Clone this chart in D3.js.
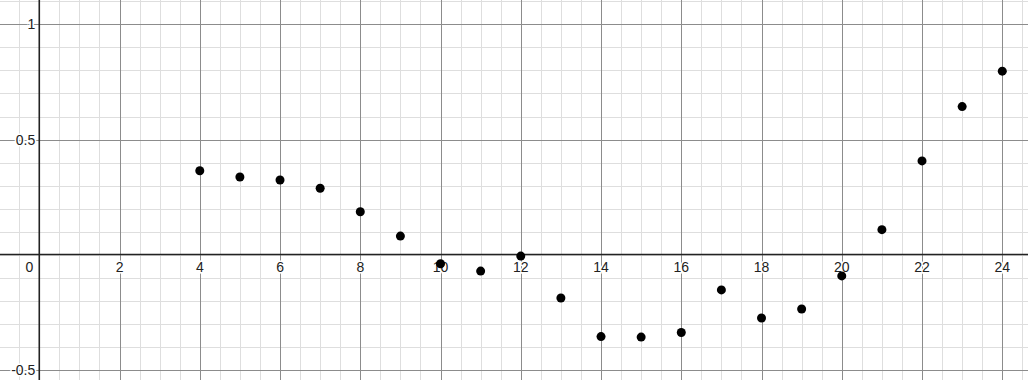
<!DOCTYPE html>
<html>
<head>
<meta charset="utf-8">
<script src="https://cdn.jsdelivr.net/npm/d3@7"></script>
<style>
  body { margin: 0; background: #fff; }
  svg { display: block; }
</style>
</head>
<body>
<svg id="chart"></svg>
<script>
// data
const xs = [4, 5, 6, 7, 8, 9, 10, 11, 12, 13, 14, 15, 16, 17, 18, 19, 20, 21, 22, 23, 24]
const ys = [0.364, 0.337, 0.324, 0.288, 0.186, 0.080, -0.040, -0.072, -0.007, -0.189, -0.357, -0.359, -0.339, -0.154, -0.276, -0.237, -0.093, 0.108, 0.407, 0.643, 0.797]
const xTicks = [2, 4, 6, 8, 10, 12, 14, 16, 18, 20, 22, 24]
const yTicks = [-0.5, 0.5, 1]

const width = 1028
const height = 380

const x = d3.scaleLinear().domain([-0.979, 24.641]).range([0, width])
const y = d3.scaleLinear().domain([-0.5456, 1.1065]).range([height, 0])

const svg = d3.select("#chart").attr("width", width).attr("height", height)

// minor grid
svg.append("g")
  .selectAll("line")
  .data(d3.range(-1, 25, 0.5))
  .join("line")
    .attr("x1", d => Math.round(x(d)) + 0.5).attr("x2", d => Math.round(x(d)) + 0.5)
    .attr("y1", 0).attr("y2", height)
    .attr("stroke", "#dedede").attr("stroke-width", 1)
svg.append("g")
  .selectAll("line")
  .data(d3.range(-5, 12).map(d => d / 10))
  .join("line")
    .attr("y1", d => Math.round(y(d)) + 0.5).attr("y2", d => Math.round(y(d)) + 0.5)
    .attr("x1", 0).attr("x2", width)
    .attr("stroke", "#dedede").attr("stroke-width", 1)

// major grid
svg.append("g")
  .selectAll("line")
  .data(d3.range(0, 26, 2))
  .join("line")
    .attr("x1", d => Math.round(x(d)) + 0.5).attr("x2", d => Math.round(x(d)) + 0.5)
    .attr("y1", 0).attr("y2", height)
    .attr("stroke", "#8c8c8c").attr("stroke-width", 1)
svg.append("g")
  .selectAll("line")
  .data([-0.5, 0.5, 1])
  .join("line")
    .attr("y1", d => Math.round(y(d)) + 0.5).attr("y2", d => Math.round(y(d)) + 0.5)
    .attr("x1", 0).attr("x2", width)
    .attr("stroke", "#8c8c8c").attr("stroke-width", 1)

// axes
svg.append("line")
  .attr("x1", 0).attr("x2", width)
  .attr("y1", y(0)).attr("y2", y(0))
  .attr("stroke", "#222").attr("stroke-width", 1.6)
svg.append("line")
  .attr("x1", x(0)).attr("x2", x(0))
  .attr("y1", 0).attr("y2", height)
  .attr("stroke", "#222").attr("stroke-width", 1.6)

// labels
const lab = svg.append("g")
  .attr("font-family", "Arial, 'Liberation Sans', sans-serif")
  .attr("font-size", 14)
  .attr("fill", "#222")

lab.selectAll("text.xt")
  .data(xTicks)
  .join("text")
    .attr("class", "xt")
    .attr("x", d => x(d))
    .attr("y", y(0) + 17)
    .attr("text-anchor", "middle")
    .attr("stroke", "#fff").attr("stroke-width", 3).attr("paint-order", "stroke")
    .text(d => d)

lab.append("text")
  .attr("x", x(0) - 6)
  .attr("y", y(0) + 17)
  .attr("text-anchor", "end")
  .attr("stroke", "#fff").attr("stroke-width", 3).attr("paint-order", "stroke")
  .text("0")

lab.selectAll("text.yt")
  .data(yTicks)
  .join("text")
    .attr("class", "yt")
    .attr("x", x(0) - 4)
    .attr("y", d => y(d) + 5)
    .attr("text-anchor", "end")
    .attr("stroke", "#fff").attr("stroke-width", 3).attr("paint-order", "stroke")
    .text(d => d)

// points
svg.append("g")
  .selectAll("circle")
  .data(xs.map((d, i) => [d, ys[i]]))
  .join("circle")
    .attr("cx", d => x(d[0]))
    .attr("cy", d => y(d[1]))
    .attr("r", 4.5)
    .attr("fill", "#000")
</script>
</body>
</html>
